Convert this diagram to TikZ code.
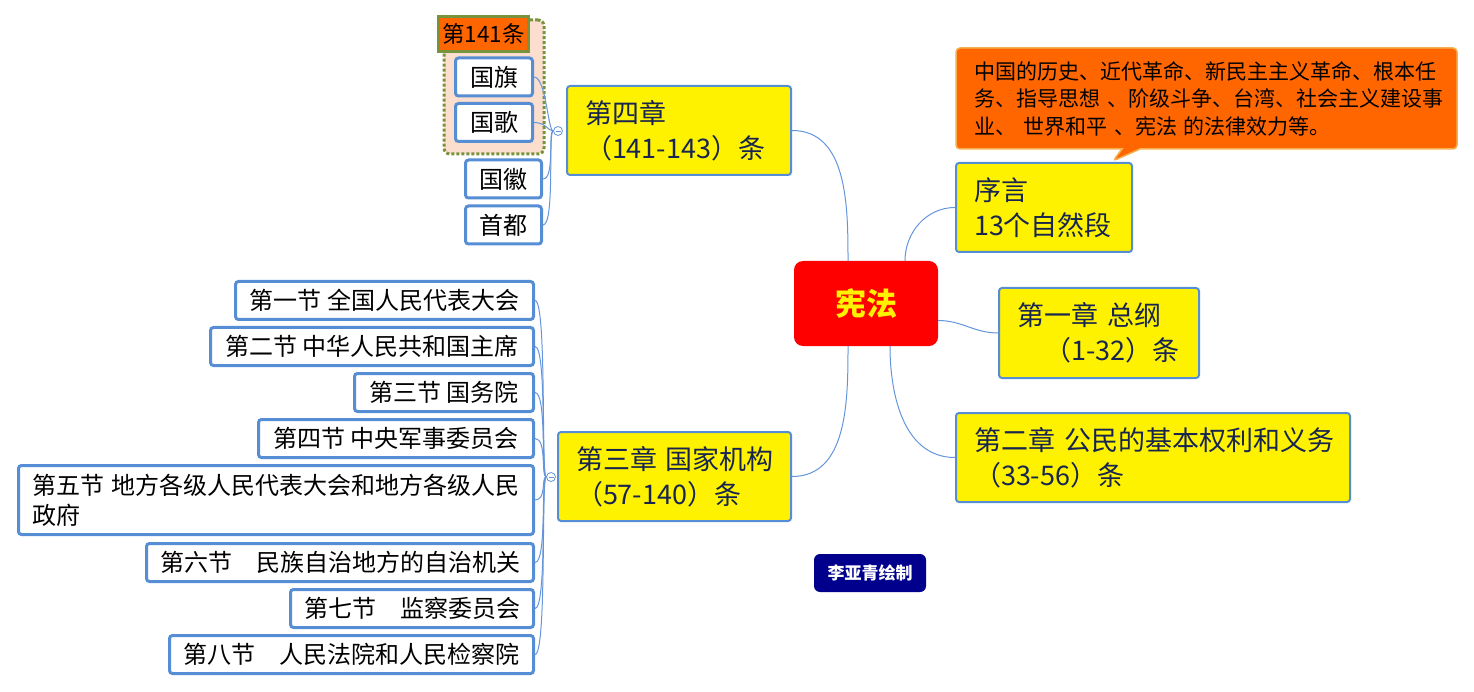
\documentclass[tikz,border=0pt]{standalone}
\usepackage{fontspec}
\setmainfont{Noto Sans CJK SC}
\usepackage{xcolor}
\usetikzlibrary{positioning, fit, shapes.callouts}
\definecolor{linkblue}{RGB}{100,149,220}
\definecolor{boxblue}{RGB}{85,142,213}
\definecolor{chaptext}{RGB}{23,37,80}
\definecolor{rootred}{RGB}{255,0,0}
\definecolor{noteorange}{RGB}{255,102,0}
\definecolor{noteedge}{RGB}{244,176,80}
\definecolor{olivegreen}{RGB}{119,147,60}
\definecolor{peach}{RGB}{252,222,206}
\definecolor{creditblue}{RGB}{0,0,140}
\tikzset{
    lawmap/.style={x=1pt, y=-1pt, font=\fontsize{24}{30}\selectfont},
    topic/.style={fill=rootred, rounded corners=9pt, minimum width=144pt, minimum height=85pt,
        text=yellow, font=\fontsize{31}{36}\selectfont\bfseries},
    chapter/.style={draw=boxblue, line width=2pt, fill=yellow, rounded corners=3pt, anchor=north west,
        align=left, text=chaptext, inner xsep=18pt, minimum height=89pt, font=\fontsize{27}{35}\selectfont},
    leaf/.style={draw=boxblue, line width=3pt, fill=white, rounded corners=3pt, anchor=east,
        minimum height=38pt, inner xsep=13.5pt, font=\fontsize{24}{30}\selectfont},
    tag/.style={draw=olivegreen, line width=3pt, fill=noteorange, minimum width=90pt, minimum height=35pt,
        inner sep=1pt, font=\fontsize{22.5}{25}\selectfont},
    grp/.style={draw=olivegreen, dotted, line width=3pt, fill=peach, rounded corners=6pt, inner sep=0pt},
    fold/.style={circle, draw=linkblue, fill=white, line width=0.8pt, minimum size=9pt, inner sep=0pt,
        path picture={\draw[linkblue, line width=0.8pt] ([xshift=2pt]path picture bounding box.west)
            -- ([xshift=-2pt]path picture bounding box.east);}},
    link/.style={draw=linkblue, line width=1pt},
    note/.style={rectangle callout, draw=noteedge, line width=1.5pt, fill=noteorange, rounded corners=4pt,
        text width=465pt, inner xsep=18pt, minimum height=101pt, align=left,
        callout pointer width=18pt, font=\fontsize{21}{27.5}\selectfont},
    credit/.style={fill=creditblue, rounded corners=6pt, minimum width=112pt, minimum height=38pt,
        text=white, font=\fontsize{17}{20}\selectfont\bfseries},
}
\begin{document}
\begin{tikzpicture}[lawmap]
    \useasboundingbox (0,0) rectangle (1474,692);

    % group round the first two of chapter four
    \node[grp, fit={(444,20) (544,154)}] (g141) {};

    \node[topic]                       (root)   at (866,303.5) {宪法};
    \node[note, callout absolute pointer={(1113,161)}] (note) at (1206.5,98.5)
        {中国的历史、近代革命、新民主主义革命、根本任\\务、指导思想~、阶级斗争、台湾、社会主义建设事\\业、~世界和平~、宪法~的法律效力等。};
    \node[chapter, text width=140pt]   (intro)  at (955,162) {序言\\13个自然段};
    \node[chapter, text width=164pt, minimum height=90pt] (ch1) at (998,287) {第一章~总纲\\\hspace*{1em}（1-32）条};
    \node[chapter, text width=358pt]   (ch2)    at (955,412) {第二章~公民的基本权利和义务\\（33-56）条};
    \node[chapter, text width=188pt]   (ch4)    at (566,85)  {第四章\\（141-143）条};
    \node[chapter, text width=197pt]   (ch3)    at (557,431) {第三章~国家机构\\（57-140）条};
    \node[credit]                      (sign)   at (870,573) {李亚青绘制};

    \node[fold] (mk4) at (558,131) {};
    \node[fold] (mk3) at (551,477) {};

    \node[leaf, minimum width=77pt]  (flag)    at (534,77)    {国旗};
    \node[leaf, minimum width=77pt]  (anthem)  at (534,122.5) {国歌};
    \node[leaf, minimum width=76pt]  (emblem)  at (543,179)   {国徽};
    \node[leaf, minimum width=76pt]  (capital) at (543,225)   {首都};
    \node[tag]                       (tag141)  at (483.5,34)  {第141条};

    \node[leaf, minimum width=298pt] (s1) at (535,300.5) {第一节 全国人民代表大会};
    \node[leaf, minimum width=323pt] (s2) at (535,346.5) {第二节 中华人民共和国主席};
    \node[leaf, minimum width=179pt] (s3) at (535,392.5) {第三节 国务院};
    \node[leaf, minimum width=275pt] (s4) at (535,438.5) {第四节 中央军事委员会};
    \node[leaf, text width=488pt, align=left, minimum height=69pt, font=\fontsize{24}{30}\selectfont]
                                     (s5) at (535,500)   {第五节~地方各级人民代表大会和地方各级人民\\政府};
    \node[leaf, minimum width=387pt] (s6) at (535,562.5) {第六节　民族自治地方的自治机关};
    \node[leaf, minimum width=243pt] (s7) at (535,608.5) {第七节　监察委员会};
    \node[leaf, minimum width=364pt] (s8) at (535,654.5) {第八节　人民法院和人民检察院};

    \draw[link] ([xshift=-18pt]root.north) to[out=90, in=0]   (ch4.east);
    \draw[link] ([xshift=39pt]root.north)  to[out=90, in=180] (intro.west);
    \draw[link] ([yshift=-17pt]root.east)  to[out=0, in=180]  (ch1.west);
    \draw[link] ([xshift=24pt]root.south)  to[out=-90, in=180] (ch2.west);
    \draw[link] ([xshift=-18pt]root.south) to[out=-90, in=0]  (ch3.east);

    \foreach \leafname in {flag, anthem, emblem, capital}
        \draw[link] (\leafname.east) .. controls +(12,0) and +(-10,0) .. (mk4);
    \foreach \leafname in {s1, s2, s3, s4, s5, s6, s7, s8}
        \draw[link] (\leafname.east) .. controls +(12,0) and +(-10,0) .. (mk3);
\end{tikzpicture}
\end{document}
